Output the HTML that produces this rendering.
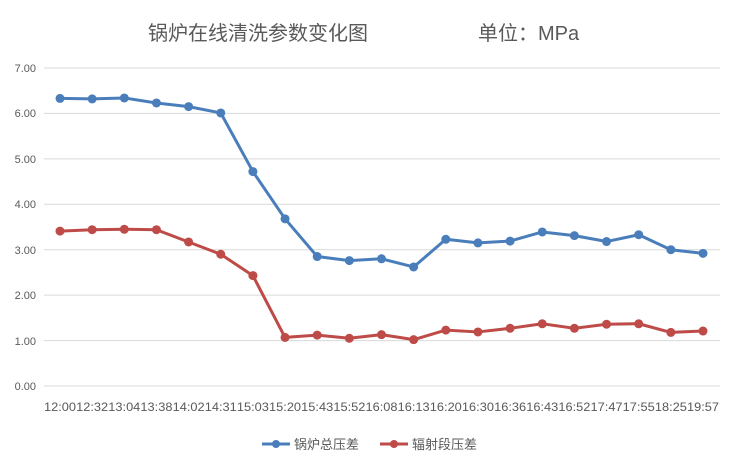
<!DOCTYPE html>
<html><head><meta charset="utf-8"><style>
body{margin:0;background:#fff;}
svg{display:block;font-family:"Liberation Sans","Noto Sans CJK SC",sans-serif;}
</style></head><body>
<svg width="737" height="470" viewBox="0 0 737 470" xmlns="http://www.w3.org/2000/svg">
<rect width="737" height="470" fill="#fff"/>
<text x="148" y="40" font-size="20" fill="#595959">锅炉在线清洗参数变化图</text>
<text x="478" y="40" font-size="20" fill="#595959">单位：MPa</text>
<g stroke="#d9d9d9" stroke-width="1">
<line x1="44" y1="68" x2="720" y2="68"/><line x1="44" y1="113.4" x2="720" y2="113.4"/>
<line x1="44" y1="158.9" x2="720" y2="158.9"/><line x1="44" y1="204.3" x2="720" y2="204.3"/>
<line x1="44" y1="249.7" x2="720" y2="249.7"/><line x1="44" y1="295.1" x2="720" y2="295.1"/>
<line x1="44" y1="340.6" x2="720" y2="340.6"/><line x1="44" y1="386" x2="720" y2="386"/>
</g>
<g font-size="11" fill="#595959" text-anchor="end">
<text x="36" y="72">7.00</text><text x="36" y="117">6.00</text><text x="36" y="163">5.00</text>
<text x="36" y="208">4.00</text><text x="36" y="254">3.00</text><text x="36" y="299">2.00</text>
<text x="36" y="345">1.00</text><text x="36" y="390">0.00</text>
</g>
<g id="xl" font-size="12" fill="#595959"></g>
<polyline id="pb" fill="none" stroke="#4a7ebb" stroke-width="3" stroke-linejoin="round"/>
<polyline id="pr" fill="none" stroke="#be4b48" stroke-width="3" stroke-linejoin="round"/>
<g id="mb" fill="#4a7ebb"></g><g id="mr" fill="#be4b48"></g>
<line x1="262" y1="444" x2="290" y2="444" stroke="#4a7ebb" stroke-width="3"/><circle cx="276" cy="444" r="4" fill="#4a7ebb"/>
<text x="294" y="449" font-size="13" fill="#595959">锅炉总压差</text>
<line x1="380" y1="444" x2="408" y2="444" stroke="#be4b48" stroke-width="3"/><circle cx="394" cy="444" r="4" fill="#be4b48"/>
<text x="412" y="449" font-size="13" fill="#595959">辐射段压差</text>
</svg>
<script>
var b=[6.33,6.32,6.34,6.23,6.15,6.01,4.72,3.68,2.85,2.76,2.80,2.62,3.23,3.15,3.19,3.39,3.31,3.18,3.33,3.00,2.92];
var r=[3.41,3.44,3.45,3.44,3.17,2.90,2.43,1.07,1.12,1.05,1.13,1.02,1.23,1.19,1.27,1.37,1.27,1.36,1.37,1.18,1.21];
var L=["12:00","12:32","13:04","13:38","14:02","14:31","15:03","15:20","15:43","15:52","16:08","16:13","16:20","16:30","16:36","16:43","16:52","17:47","17:55","18:25","19:57"];
var ns="http://www.w3.org/2000/svg";
function X(i){return 60+i*32.15;}function Y(v){return 386-v*45.43;}
function draw(d,p,m){var pts=[];d.forEach(function(v,i){pts.push(X(i)+","+Y(v));var c=document.createElementNS(ns,"circle");c.setAttribute("cx",X(i));c.setAttribute("cy",Y(v));c.setAttribute("r",4.5);document.getElementById(m).appendChild(c);});document.getElementById(p).setAttribute("points",pts.join(" "));}
draw(b,"pb","mb");draw(r,"pr","mr");
L.forEach(function(t,i){var e=document.createElementNS(ns,"text");e.setAttribute("x",X(i)-16);e.setAttribute("y",411);e.setAttribute("textLength",32);e.setAttribute("lengthAdjust","spacingAndGlyphs");e.textContent=t;document.getElementById("xl").appendChild(e);});
</script>
</body></html>
